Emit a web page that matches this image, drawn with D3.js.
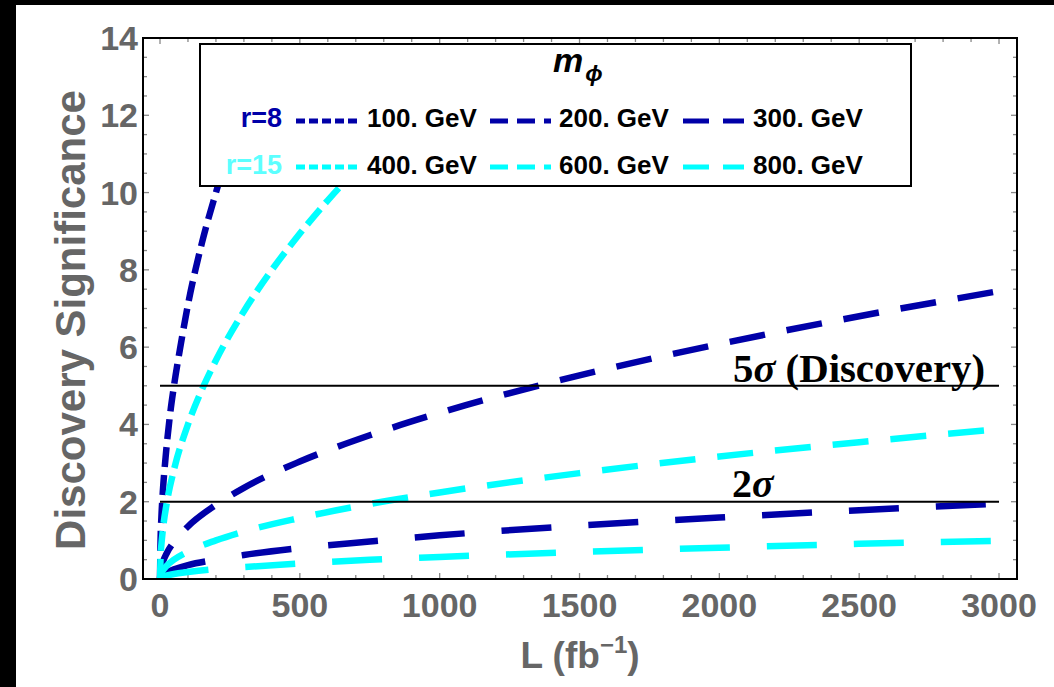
<!DOCTYPE html>
<html>
<head>
<meta charset="utf-8">
<script src="https://cdn.jsdelivr.net/npm/d3@7"></script>
<style>
  html, body { margin: 0; padding: 0; background: #fff; }
  svg { display: block; }
</style>
</head>
<body>
<svg id="chart" width="1054" height="687"></svg>
<script>
// ---------------- data ----------------
const massLabels = ["100. GeV", "200. GeV", "300. GeV", "400. GeV", "600. GeV", "800. GeV"];
const rLabels = ["r=8", "r=15"];
const xTicks = [0, 500, 1000, 1500, 2000, 2500, 3000];
const yTicks = [0, 2, 4, 6, 8, 10, 12, 14];

// steep curves (they disappear under the legend box)
const lumi100 = [0, 2, 5, 10, 20, 35, 50, 75, 100, 150, 200, 250];
const z100    = [0, 1.0, 1.6, 2.25, 3.15, 4.2, 5.0, 6.1, 7.1, 8.7, 10.0, 11.2];
const lumi400 = [0, 2, 5, 10, 25, 50, 100, 150, 200, 300, 400, 500, 600, 700, 800];
const z400    = [0, 0.57, 0.89, 1.26, 2.0, 2.83, 4.0, 4.9, 5.66, 6.93, 8.0, 8.94, 9.8, 10.58, 11.31];
// slower curves
const lumi    = [0, 2, 5, 10, 25, 50, 100, 200, 300, 500, 750, 1000, 1500, 2000, 2500, 3000];
const z200    = [0, 0.19, 0.30, 0.43, 0.68, 0.96, 1.36, 1.92, 2.36, 3.04, 3.72, 4.30, 5.27, 6.08, 6.80, 7.45];
const z300    = [0, 0.05, 0.08, 0.11, 0.18, 0.25, 0.36, 0.50, 0.62, 0.80, 0.97, 1.13, 1.38, 1.59, 1.78, 1.95];
const z600    = [0, 0.10, 0.16, 0.22, 0.35, 0.50, 0.71, 1.00, 1.23, 1.58, 1.94, 2.24, 2.74, 3.17, 3.54, 3.88];
const z800    = [0, 0.03, 0.04, 0.06, 0.09, 0.13, 0.18, 0.26, 0.31, 0.40, 0.50, 0.57, 0.70, 0.81, 0.91, 0.99];
const refLevels = [5, 2];
const refLabels = ["5", "2"];

// ---------------- styles ----------------
const DARK = "#0000a8", CYAN = "#00ffff", CYAN_TXT = "#5cffff", GRAY = "#666666";
const dashPlot = { s: "20,8", m: "36,22", l: "50,37" };
const dashLeg  = { s: "9,4",  m: "18,9",  l: "26,14" };

const series = [
  { name: massLabels[0], L: lumi100, Z: z100, color: DARK, dash: "s" },
  { name: massLabels[1], L: lumi,    Z: z200, color: DARK, dash: "m" },
  { name: massLabels[2], L: lumi,    Z: z300, color: DARK, dash: "l" },
  { name: massLabels[3], L: lumi400, Z: z400, color: CYAN, dash: "s" },
  { name: massLabels[4], L: lumi,    Z: z600, color: CYAN, dash: "m" },
  { name: massLabels[5], L: lumi,    Z: z800, color: CYAN, dash: "l" }
];

const svg = d3.select("#chart");
const FONT = "'Liberation Sans', Arial, Helvetica, sans-serif";
const SERIF = "'Liberation Serif', 'Times New Roman', serif";

// black border bands
svg.append("rect").attr("x", 0).attr("y", 0).attr("width", 1054).attr("height", 5).attr("fill", "#000");
svg.append("rect").attr("x", 0).attr("y", 0).attr("width", 16).attr("height", 687).attr("fill", "#000");

const fx0 = 143, fx1 = 1017, fy0 = 38, fy1 = 579;
const x = d3.scaleLinear().domain([-60.8, 3064.3]).range([fx0, fx1]);
const y = d3.scaleLinear().domain([0, 14]).range([fy1, fy0]);

svg.append("clipPath").attr("id", "clip")
  .append("rect").attr("x", fx0).attr("y", fy0).attr("width", fx1 - fx0).attr("height", fy1 - fy0);

// ticks on all four sides (inward)
const tickG = svg.append("g").attr("stroke", "#888").attr("stroke-width", 1.3);
const xMinor = d3.range(0, 3001, 100);
const yMinor = d3.range(0, 14.01, 0.5);
xMinor.forEach(v => {
  const len = v % 500 === 0 ? 6 : 4;
  tickG.append("line").attr("x1", x(v)).attr("x2", x(v)).attr("y1", fy1).attr("y2", fy1 - len);
  tickG.append("line").attr("x1", x(v)).attr("x2", x(v)).attr("y1", fy0).attr("y2", fy0 + len);
});
yMinor.forEach(v => {
  const len = Math.abs(v % 2) < 1e-9 ? 6 : 4;
  tickG.append("line").attr("y1", y(v)).attr("y2", y(v)).attr("x1", fx0).attr("x2", fx0 + len);
  tickG.append("line").attr("y1", y(v)).attr("y2", y(v)).attr("x1", fx1).attr("x2", fx1 - len);
});

// curves
const line = d3.line().x(d => x(d[0])).y(d => y(d[1])).curve(d3.curveMonotoneX);
const curveG = svg.append("g").attr("clip-path", "url(#clip)");
series.forEach(s => {
  curveG.append("path")
    .datum(s.L.map((l, i) => [l, s.Z[i]]))
    .attr("d", line)
    .attr("fill", "none")
    .attr("stroke", s.color)
    .attr("stroke-width", 6.5)
    .attr("stroke-dasharray", dashPlot[s.dash]);
});

// reference lines
refLevels.forEach(v => {
  svg.append("line").attr("x1", x(0)).attr("x2", x(3000)).attr("y1", y(v)).attr("y2", y(v))
    .attr("stroke", "#000").attr("stroke-width", 2);
});
const t5 = svg.append("text").attr("x", 733).attr("y", 382)
  .attr("font-family", SERIF).attr("font-weight", "bold").attr("font-size", 40).attr("fill", "#000")
  .attr("textLength", 252).attr("lengthAdjust", "spacingAndGlyphs");
t5.append("tspan").text(refLabels[0]);
t5.append("tspan").attr("font-style", "italic").text("σ");
t5.append("tspan").text(" (Discovery)");
const t2 = svg.append("text").attr("x", 732).attr("y", 497)
  .attr("font-family", SERIF).attr("font-weight", "bold").attr("font-size", 40).attr("fill", "#000");
t2.append("tspan").text(refLabels[1]);
t2.append("tspan").attr("font-style", "italic").text("σ");

// frame
svg.append("rect").attr("x", fx0).attr("y", fy0).attr("width", fx1 - fx0).attr("height", fy1 - fy0)
  .attr("fill", "none").attr("stroke", "#000").attr("stroke-width", 2);

// tick labels
svg.append("g").selectAll("text").data(xTicks).join("text")
  .attr("x", d => x(d)).attr("y", 617)
  .attr("text-anchor", "middle")
  .attr("font-family", FONT).attr("font-weight", "bold").attr("font-size", 34).attr("fill", GRAY)
  .text(d => d);
svg.append("g").selectAll("text").data(yTicks).join("text")
  .attr("x", 138).attr("y", d => y(d) + 12)
  .attr("text-anchor", "end")
  .attr("font-family", FONT).attr("font-weight", "bold").attr("font-size", 34).attr("fill", GRAY)
  .text(d => d);

// axis titles
const xt = svg.append("text").attr("x", 580).attr("y", 668).attr("text-anchor", "middle")
  .attr("font-family", FONT).attr("font-weight", "bold").attr("font-size", 37).attr("fill", GRAY);
xt.append("tspan").text("L (fb");
xt.append("tspan").attr("font-size", 24).attr("dy", -15).text("−1");
xt.append("tspan").attr("dy", 15).text(")");

svg.append("text").attr("transform", "translate(85,320) rotate(-90)")
  .attr("text-anchor", "middle")
  .attr("font-family", FONT).attr("font-weight", "bold").attr("font-size", 42).attr("fill", GRAY)
  .text("Discovery Significance");

// legend
const lg = svg.append("g");
lg.append("rect").attr("x", 200).attr("y", 44).attr("width", 711).attr("height", 142)
  .attr("fill", "#fff").attr("stroke", "#000").attr("stroke-width", 2);
const title = lg.append("text").attr("x", 553).attr("y", 72)
  .attr("font-family", FONT).attr("font-weight", "bold").attr("font-style", "italic").attr("font-size", 34).attr("fill", "#000");
title.append("tspan").text("m");
title.append("tspan").attr("font-size", 23).attr("dy", 9).attr("dx", 2).text("ϕ");

const rowY = [127, 174];
const lineY = [121, 167];
const sampleX = [296, 490, 683];
const textX = [367, 559, 753];
lg.selectAll("text.r").data(rLabels).join("text").attr("class", "r")
  .attr("x", 282).attr("y", (d, i) => rowY[i]).attr("text-anchor", "end")
  .attr("font-family", FONT).attr("font-weight", "bold").attr("font-size", 27)
  .attr("fill", (d, i) => i === 0 ? DARK : CYAN_TXT)
  .text(d => d);
series.forEach((s, k) => {
  const row = Math.floor(k / 3), col = k % 3;
  lg.append("line")
    .attr("x1", sampleX[col]).attr("x2", sampleX[col] + 61)
    .attr("y1", lineY[row]).attr("y2", lineY[row])
    .attr("stroke", s.color).attr("stroke-width", 5)
    .attr("stroke-dasharray", dashLeg[s.dash]);
  lg.append("text").attr("x", textX[col]).attr("y", rowY[row])
    .attr("font-family", FONT).attr("font-weight", "bold").attr("font-size", 26).attr("fill", "#000")
    .text(s.name);
});
</script>
</body>
</html>
